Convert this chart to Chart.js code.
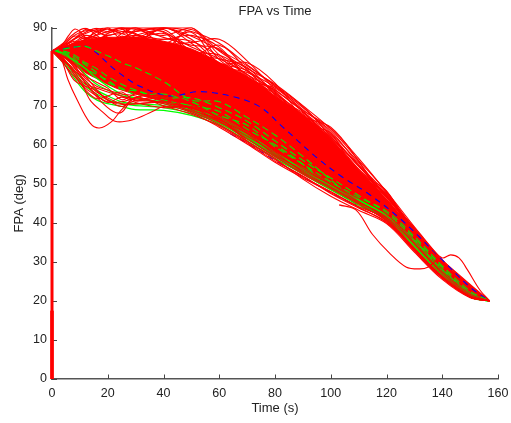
<!DOCTYPE html>
<html lang="en">
<head>
  <meta charset="UTF-8" />
  <title>FPA vs Time</title>
  <script src="https://cdn.jsdelivr.net/npm/chart.js"></script>
  <style>
    html, body { margin: 0; background: #fff; }
    canvas { display: block; }
  </style>
</head>
<body>
  <canvas id="fpaChart" width="511" height="423"></canvas>

  <script>
    // all smooth runs share this time base
    const time = [0, 4, 8, 12, 16, 20, 25, 30, 40, 50, 60, 70, 80, 90, 100, 110, 120, 130, 140, 150, 157];
    const xTicks = [0, 20, 40, 60, 80, 100, 120, 140, 160];
    const yTicks = [0, 10, 20, 30, 40, 50, 60, 70, 80, 90];

    // the solid part of the band
    const coreUpper = [84, 85, 86, 86.8, 87.2, 87.5, 87.5, 87.5, 86.5, 84.5, 81, 77.5, 72.5, 67.5, 61.5, 53.5, 46, 37.5, 29, 23, 20];
    const coreLower = [84, 82.5, 80.5, 78.5, 77, 75.5, 74, 73, 71, 68.5, 65.5, 61.5, 57, 52.5, 48.5, 44.8, 40.5, 33.5, 26.5, 21, 20];

    // stringy runs along the top of the band
    const redTop = [
      [84, 85.5, 87, 88.5, 89.5, 90, 90, 90, 90, 90, 84, 79.5, 75.5, 70, 64, 56, 48, 39, 30.5, 24, 20],
      [84, 86, 88.5, 89.8, 88, 86, 87, 89, 90, 89, 86, 80.5, 75, 69, 63.5, 55, 47.5, 38.5, 30, 23.8, 20],
      [84, 85, 86, 87, 88, 89, 90, 89.5, 88, 90, 83, 78, 74, 68.5, 62.5, 54.5, 47, 38, 29.8, 23.5, 20],
      [84, 84.8, 85.5, 86, 87, 88, 88.5, 89, 90, 87, 81, 79, 73.5, 67.5, 61.5, 53, 46.5, 37.5, 29.5, 23.2, 20],
      [84, 85, 85.5, 85, 85.5, 86.5, 87.5, 88, 87, 88, 85, 77.5, 73, 67, 60.5, 52, 46, 37, 29, 23, 20],
      [84, 84.5, 85, 85.5, 86, 86, 86.5, 87, 88.5, 85, 82, 78, 72, 66.5, 60, 51.5, 45.5, 36.5, 28.5, 22.8, 20],
      [84, 85, 87, 89.5, 89, 87.5, 86, 85.5, 87, 86.5, 82.5, 76.5, 74.5, 68.5, 61, 53.5, 46.8, 37.5, 29, 23, 20],
      [84, 84.6, 85.5, 87, 88.8, 89.6, 88.5, 87.5, 89.5, 84, 83, 78.8, 73.2, 67.8, 62, 54.5, 47, 38, 29.6, 23.4, 20],
      [84, 85.2, 86.5, 86, 85, 85.5, 88.5, 90, 86, 88.8, 80.5, 78.5, 74.8, 69.5, 63, 55.5, 46.5, 38.8, 30.2, 23.6, 20],
      [84, 84.4, 85, 86.5, 87.5, 87, 86, 88, 89, 83.5, 82, 79.8, 72.8, 66, 59.8, 52.5, 45.8, 36.8, 28.8, 22.6, 20],
      [84, 84.9, 86, 87.5, 86.5, 88.5, 89.5, 90, 87.5, 85.5, 84.5, 76.8, 71.8, 68.2, 61.8, 54.8, 45.5, 37.2, 28.2, 22.8, 20],
      [84, 85.4, 88, 89.2, 89, 88, 89, 88.5, 84.5, 89.5, 81.8, 77, 73.8, 65.5, 63, 51.5, 46.8, 37.8, 29.8, 23, 20],
      [84, 85.1, 87.2, 88.8, 89.8, 89, 90, 88.2, 85.8, 86.2, 87, 81.5, 74.2, 68.8, 64.2, 56.5, 47.8, 38.2, 30, 23.9, 20],
      [84, 84.7, 86.2, 88, 87.2, 85.8, 87.8, 86.5, 89.8, 87.8, 84.2, 80.2, 75.2, 69.8, 62.2, 53.8, 47.2, 37.8, 29.2, 23.3, 20],
      [84, 85.6, 87.8, 87.2, 88.2, 90, 87, 89.4, 88.8, 82.8, 85.5, 79.2, 72.2, 67.2, 64.5, 55.8, 45.2, 38.5, 29.4, 22.4, 20],
      [84, 84.3, 85.8, 86.8, 89.2, 88.6, 89.8, 86.2, 90, 86, 80.8, 81, 75.8, 66.8, 60.8, 52.8, 48.2, 36.5, 30.4, 24.2, 20]
    ];

    // stringy runs under the solid part
    const redBottom = [
      [84, 81, 77.5, 74.5, 72.5, 71, 71, 72, 73.5, 70.5, 66.5, 62.8, 57.5, 53.5, 49.8, 45.5, 41, 33, 26, 21, 20],
      [84, 81.5, 79, 76.5, 73.5, 72, 70.5, 70.5, 71, 69.5, 66, 61.5, 57, 52.5, 48.8, 44.8, 40.5, 32.8, 25.8, 21, 20],
      [84, 82, 78.5, 75.5, 74.5, 73.5, 72.5, 71.5, 70.8, 68.5, 65.2, 60.8, 56.2, 51.8, 48, 44.2, 41, 33.5, 26.2, 21, 20],
      [84, 82.5, 80, 77, 75, 74, 73, 72.5, 70, 67.8, 64.8, 60.5, 55.8, 52, 47.5, 43.8, 40.2, 33, 26, 21, 20],
      [84, 81.8, 79.5, 77.5, 76, 74.5, 71.5, 73, 71.8, 70.2, 66.8, 61, 56.5, 51.2, 46.8, 43.2, 39.8, 32.5, 25.5, 20.8, 20],
      [84, 82.2, 78, 74, 71.8, 72.5, 73.5, 71.2, 72.2, 69, 65.8, 62.2, 58, 53, 49.2, 45.2, 41.5, 34.5, 27, 21.4, 20],
      [84, 81.2, 76.5, 75, 73.8, 71.5, 69.8, 72, 70.5, 68.2, 64.5, 60.2, 55.5, 51.5, 47.8, 44, 40, 33.2, 26.4, 21.2, 20],
      [84, 82.8, 80.5, 75.8, 72.8, 70.8, 72.2, 70.8, 69.5, 69.8, 67, 63, 58.5, 54, 50, 46.2, 42.2, 35, 27.5, 21.8, 20]
    ];

    // runs that leave the band, with their own time points
    const loopATime = [0, 3, 5.7, 9, 13.6, 17, 21.5, 25, 30.5, 40];
    const loopA = [84, 82.5, 76.7, 71.5, 65.6, 64.3, 66, 69, 72.3, 72.5];
    const loopBTime = [0, 5, 10, 13.6, 18, 22.6, 29, 36, 40, 50];
    const loopB = [84, 81, 76.7, 71.5, 68.5, 66, 66.4, 68.5, 69.8, 69.5];
    const loopCTime = [0, 6, 11, 17, 22, 25, 28, 35];
    const loopC = [84, 81.5, 76.7, 71.5, 68.5, 68.3, 70.8, 72];
    const loopDTime = [0, 7, 13, 19.7, 25.4, 32, 42];
    const loopD = [84, 81.5, 76.7, 71.5, 70.3, 70.6, 71];
    const bumpTime = [0, 3, 6, 8, 10, 13, 16, 20];
    const bump = [84, 85, 88, 89.6, 89, 86.5, 84.5, 83];
    const lateDipTime = [103, 109, 115, 121, 127, 132, 135, 138];
    const lateDip = [44.6, 43.3, 37, 32.3, 28.7, 28.2, 28.7, 30.5];
    const lateBumpTime = [136, 140, 143, 146, 149, 153.5, 157];
    const lateBump = [33.5, 31, 31.8, 31, 28, 22.8, 20];

    const greenLines = [
      [84, 81, 77, 73.5, 71.5, 70.5, 69.8, 69, 68.8, 67.5, 65, 61, 56.5, 52.5, 48.5, 44.5, 41, 33.8, 26.5, 21, 20],
      [84, 81.5, 78, 75, 73, 71.5, 70.5, 70, 69.5, 68, 65.5, 61.5, 57, 53, 49, 45, 41.5, 34.2, 26.8, 21, 20],
      [84, 82, 79, 76, 74, 72.5, 71, 70.5, 70, 68.5, 66, 62, 57.5, 53.5, 49.5, 45.5, 42, 34.8, 27, 21, 20],
      [84, 83, 81, 78, 75.5, 74, 72.5, 72, 71, 70, 67, 63, 58, 54, 50, 46, 42, 35.2, 27.5, 21.5, 20],
      [84, 83.5, 81.5, 79.5, 77, 75, 73, 72, 70.5, 69, 66.8, 62.5, 57.8, 53.8, 49.8, 45.8, 41.8, 35, 27.2, 21, 20]
    ];
    // these sit half under the red, so they read as broken lines
    const greenInner = [
      [84, 84.5, 85, 85.2, 84, 82.8, 81, 79.7, 76.2, 71.5, 71, 67, 62.5, 57, 51, 45, 41.5, 35.5, 28, 22, 20],
      [84, 83.5, 82, 79.5, 78, 76.5, 74.2, 73.8, 71.5, 70, 68.5, 64, 60, 55, 49, 44.5, 41, 35, 27.8, 21.5, 20],
      [84, 84, 83, 81, 79.5, 77.5, 75.5, 74, 72, 72, 69.5, 66, 61, 56, 51.5, 47, 42.5, 36, 28.5, 22, 20],
      [84, 83.8, 82.5, 80.5, 78.5, 76, 74.5, 72.8, 73, 71, 67.5, 65, 59.5, 55, 50.5, 46.5, 43, 36.5, 29, 22.5, 20]
    ];

    const blueTime = [0, 8, 13, 23, 31.5, 42, 53, 65, 74.6, 83, 95, 104, 113, 125, 140, 150, 157];
    const blueUpper = [84, 85, 85, 79, 75, 72.5, 73.6, 72.3, 69.7, 64.4, 56.7, 51.8, 47.7, 41, 30.5, 23.5, 20];
    const blueLowerTime = [64, 71, 80, 90, 104, 109];
    const blueLower = [62.8, 60, 56, 51.8, 46.2, 44.6];

    const axisPostTime = [0, 0];
    const axisPost = [0, 84];
    const axisFootTime = [0, 0];
    const axisFoot = [0, 17.5];

    function pts(xs, ys) {
      return xs.map((x, i) => ({ x, y: ys[i] }));
    }

    function run(xs, ys, color, order, extra) {
      return Object.assign({
        data: pts(xs, ys),
        borderColor: color,
        borderWidth: 1.1,
        pointRadius: 0,
        tension: 0.35,
        fill: false,
        order
      }, extra || {});
    }

    const datasets = [
      run(time, coreUpper, '#ff0000', 10, { fill: '+1', backgroundColor: '#ff0000' }),
      run(time, coreLower, '#ff0000', 10)
    ];
    redTop.forEach(r => datasets.push(run(time, r, '#ff0000', 9)));
    redBottom.forEach(r => datasets.push(run(time, r, '#ff0000', 3)));
    greenLines.forEach(r => datasets.push(run(time, r, '#00ff00', 5, { borderWidth: 1.3 })));
    greenInner.forEach(r => datasets.push(run(time, r, '#00ee00', 4, { borderDash: [7, 4] })));
    datasets.push(run(blueTime, blueUpper, '#0000ff', 6, { borderDash: [6, 5] }));
    datasets.push(run(blueLowerTime, blueLower, '#0000ff', 6, { borderDash: [6, 5] }));
    datasets.push(run(loopATime, loopA, '#ff0000', 2));
    datasets.push(run(loopBTime, loopB, '#ff0000', 2));
    datasets.push(run(loopCTime, loopC, '#ff0000', 2));
    datasets.push(run(loopDTime, loopD, '#ff0000', 2));
    datasets.push(run(bumpTime, bump, '#ff0000', 2));
    datasets.push(run(lateDipTime, lateDip, '#ff0000', 2));
    datasets.push(run(lateBumpTime, lateBump, '#ff0000', 2));
    datasets.push(run(axisPostTime, axisPost, '#ff0000', 1, { borderWidth: 3, tension: 0, clip: false }));
    datasets.push(run(axisFootTime, axisFoot, '#ff0000', 1, { borderWidth: 3.6, tension: 0, clip: false }));

    // MATLAB style ticks point into the plot
    const inwardTicks = {
      id: 'inwardTicks',
      beforeDatasetsDraw(chart) {
        const { ctx, scales: { x, y }, chartArea: a } = chart;
        ctx.save();
        ctx.strokeStyle = '#444';
        ctx.lineWidth = 1;
        ctx.beginPath();
        xTicks.forEach(t => {
          const px = Math.round(x.getPixelForValue(t)) + 0.5;
          ctx.moveTo(px, a.bottom);
          ctx.lineTo(px, a.bottom - 4.5);
        });
        yTicks.forEach(t => {
          const py = Math.round(y.getPixelForValue(t)) + 0.5;
          ctx.moveTo(a.left, py);
          ctx.lineTo(a.left + 5, py);
        });
        ctx.stroke();
        ctx.restore();
      }
    };

    const labelFont = { family: '"Liberation Sans", Arial, sans-serif', size: 12.5 };
    const titleFont = { family: '"Liberation Sans", Arial, sans-serif', size: 13, weight: 'normal' };

    new Chart(document.getElementById('fpaChart').getContext('2d'), {
      type: 'line',
      data: { datasets },
      plugins: [inwardTicks],
      options: {
        responsive: false,
        animation: false,
        layout: { padding: { right: 13, top: 0, left: 0, bottom: 0 } },
        plugins: {
          legend: { display: false },
          tooltip: { enabled: false },
          title: {
            display: true,
            fullSize: false,
            text: 'FPA vs Time',
            color: '#222',
            font: titleFont,
            padding: { top: 4, bottom: 8 }
          }
        },
        scales: {
          x: {
            type: 'linear',
            min: 0,
            max: 160,
            afterBuildTicks: s => { s.ticks = xTicks.map(value => ({ value })); },
            afterFit: s => { s.height = 44; s.paddingRight = 0; s.paddingLeft = 0; },
            grid: { display: false, drawTicks: false },
            border: { color: '#555', width: 1.5 },
            ticks: { color: '#222', font: labelFont, maxRotation: 0, padding: 7 },
            title: { display: true, text: 'Time (s)', color: '#222', font: titleFont, padding: { top: 1, bottom: 7 } }
          },
          y: {
            min: 0,
            max: 90,
            afterBuildTicks: s => { s.ticks = yTicks.map(value => ({ value })); },
            afterFit: s => { s.width = 52; s.paddingTop = 0; s.paddingBottom = 0; },
            grid: { display: false, drawTicks: false },
            border: { color: '#555', width: 1.5 },
            ticks: { color: '#222', font: labelFont, padding: 5 },
            title: { display: true, text: 'FPA (deg)', color: '#222', font: titleFont, padding: { top: 12, bottom: 4 } }
          }
        }
      }
    });
  </script>
</body>
</html>
